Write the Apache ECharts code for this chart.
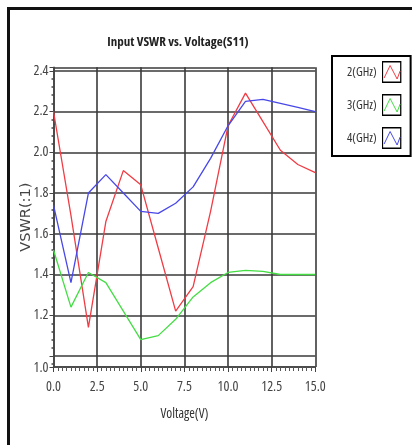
<!DOCTYPE html>
<html>
<head>
<meta charset="utf-8">
<script src="https://cdn.jsdelivr.net/npm/echarts@6/dist/echarts.min.js"></script>
<style>
html,body{margin:0;padding:0;background:#fff;}
#chart{width:412px;height:445px;}
</style>
</head>
<body>
<div id="chart"></div>
<script>
// ---- data ----
const voltage = [0, 1, 2, 3, 4, 5, 6, 7, 8, 9, 10, 11, 12, 13, 14, 15];
const vswr2GHz = [2.20, 1.69, 1.14, 1.66, 1.91, 1.84, 1.53, 1.22, 1.34, 1.71, 2.13, 2.29, 2.15, 2.01, 1.94, 1.90];
const vswr3GHz = [1.52, 1.24, 1.41, 1.36, 1.22, 1.08, 1.10, 1.18, 1.29, 1.36, 1.41, 1.42, 1.415, 1.40, 1.40, 1.40];
const vswr4GHz = [1.74, 1.36, 1.80, 1.89, 1.80, 1.71, 1.70, 1.75, 1.83, 1.97, 2.13, 2.25, 2.26, 2.24, 2.22, 2.20];
const seriesNames = ['2(GHz)', '3(GHz)', '4(GHz)'];
const seriesColors = ['#f03c44', '#44dd44', '#4848e8'];
const titleText = 'Input VSWR vs. Voltage(S11)';
const xName = 'Voltage(V)';
const yName = 'VSWR(:1)';

const narrowFamily = "'Open Sans', sans-serif";
const narrowStyle = 'condensed';   // font-stretch keyword placed in the font shorthand

function iconFor(color) {
  const svg = "<svg xmlns='http://www.w3.org/2000/svg' width='20' height='22'>" +
    "<rect x='0.75' y='0.75' width='18.5' height='20.5' fill='white' stroke='black' stroke-width='1.5'/>" +
    "<polyline points='2.5,17 8.5,4.5 15.5,18 18.5,10' fill='none' stroke='" + color + "' stroke-width='1'/></svg>";
  return 'image://data:image/svg+xml;charset=utf-8,' + encodeURIComponent(svg);
}

const seriesValues = [vswr2GHz, vswr3GHz, vswr4GHz];
const labelFont = {fontFamily: narrowFamily, fontStyle: narrowStyle, fontSize: 14, color: '#444'};

const chart = echarts.init(document.getElementById('chart'), null, {renderer: 'canvas'});
chart.setOption({
  animation: false,
  backgroundColor: '#fff',
  title: {
    text: titleText,
    left: 173,
    top: 31,
    textAlign: 'center',
    textStyle: {fontFamily: narrowFamily, fontStyle: narrowStyle, fontWeight: 'bold', fontSize: 13, color: '#222'}
  },
  graphic: [{
    type: 'rect',
    shape: {x: 8.5, y: 8.5, width: 520, height: 460},
    style: {fill: 'none', stroke: '#111', lineWidth: 3},
    silent: true
  }],
  legend: {
    orient: 'vertical',
    left: 332,
    top: 56,
    align: 'right',
    itemWidth: 20,
    itemHeight: 22,
    itemGap: 11,
    padding: [5, 9, 7, 15],
    borderColor: '#000',
    borderWidth: 2,
    backgroundColor: '#fff',
    textStyle: {fontFamily: narrowFamily, fontStyle: narrowStyle, fontSize: 12.5, color: '#333'},
    data: seriesNames.map((n, i) => ({name: n, icon: iconFor(seriesColors[i])}))
  },
  grid: {left: 53.5, right: 96.7, top: 67.3, bottom: 78, show: false},
  xAxis: {
    type: 'value',
    min: 0,
    max: 15,
    interval: 2.5,
    name: xName,
    nameLocation: 'middle',
    nameGap: 40,
    nameMoveOverlap: false,
    nameTextStyle: {fontFamily: narrowFamily, fontStyle: narrowStyle, fontSize: 13.5, color: '#333'},
    axisLine: {show: true, lineStyle: {color: '#444', width: 1.5}},
    axisTick: {show: true, length: 5, lineStyle: {color: '#444'}},
    minorTick: {show: true, splitNumber: 10, length: 4, lineStyle: {color: '#555'}},
    axisLabel: Object.assign({margin: 13, formatter: v => v.toFixed(1)}, labelFont),
    splitLine: {show: true, lineStyle: {color: '#3a3a3a', width: 1.6}}
  },
  yAxis: {
    type: 'value',
    min: 0.946,
    max: 2.417,
    splitNumber: 7,
    name: yName,
    nameLocation: 'middle',
    nameGap: 20,
    nameMoveOverlap: false,
    nameTextStyle: {fontFamily: "'DejaVu Sans',sans-serif", fontSize: 14.5, color: '#444'},
    axisLine: {show: true, lineStyle: {color: '#444', width: 1.5}},
    axisTick: {show: true, length: 4, lineStyle: {color: '#444'}},
    minorTick: {show: true, splitNumber: 5, length: 2, lineStyle: {color: '#444', width: 1.5}},
    axisLabel: Object.assign({
      margin: 5,
      formatter: function (v) {
        const r = Math.round(v * 10) / 10;
        if (Math.abs(v - r) > 0.001 || Math.round(r * 10) % 2 !== 0) return '';
        if (Math.abs(r - 1) < 0.001) return '{low|1.0}';
        return r.toFixed(1);
      },
      rich: {low: Object.assign({padding: [24, 0, 0, 0]}, labelFont)}
    }, labelFont),
    splitLine: {show: true, lineStyle: {color: '#3a3a3a', width: 1.6}}
  },
  series: seriesNames.map((n, i) => ({
    name: n,
    type: 'line',
    symbol: 'none',
    lineStyle: {color: seriesColors[i], width: 1.3},
    itemStyle: {color: seriesColors[i]},
    data: voltage.map((v, k) => [v, seriesValues[i][k]])
  }))
});
</script>
</body>
</html>
